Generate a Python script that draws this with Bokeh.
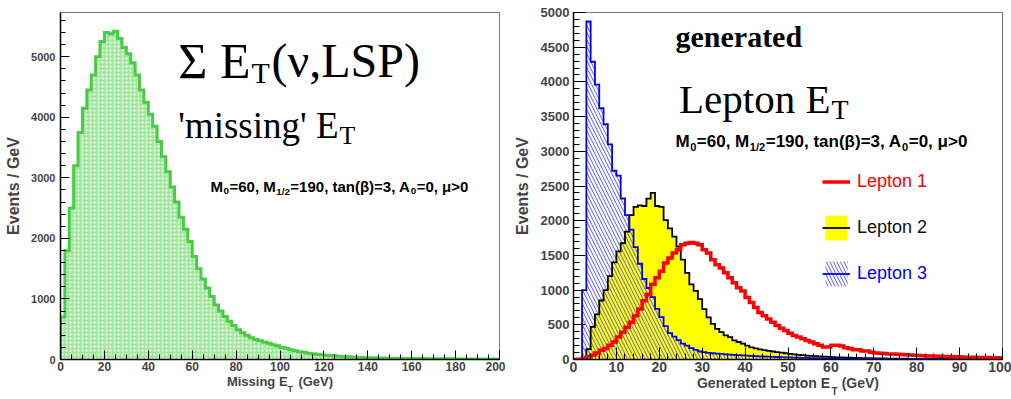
import numpy as np
from bokeh.plotting import figure
from bokeh.layouts import row
from bokeh.models import Label, Legend, LegendItem, Range1d, SingleIntervalTicker, Title
from bokeh.embed import file_html
from bokeh.resources import INLINE

# ---------------- data ----------------
# Left: missing ET, 2 GeV bins from 0 to 200
met_bin_width = 2.0
met_counts = [700, 1800, 2500, 3200, 3750, 4150, 4450, 4700, 5000, 5250,
              5400, 5380, 5420, 5300, 5150, 5050, 4900, 4700, 4450, 4250,
              4050, 3850, 3600, 3350, 3100, 2850, 2600, 2350, 2150, 1950,
              1700, 1500, 1330, 1180, 1040, 900, 800, 710, 630, 560,
              490, 440, 400, 360, 330, 310, 290, 270, 245, 225,
              200, 180, 160, 145, 130, 120, 105, 95, 88, 80,
              72, 66, 60, 55, 50, 46, 42, 38, 35, 32,
              30, 28, 26, 24, 22, 21, 20, 19, 18, 17,
              16, 15, 15, 14, 13, 13, 12, 12, 11, 11,
              10, 10, 9, 9, 8, 8, 8, 7, 7, 6]

# Right: generated lepton ET, 1 GeV bins from 0 to 100
lep_bin_width = 1.0
lepton1 = [0, 5, 15, 38, 62, 95, 133, 157, 204, 252,
           323, 394, 465, 537, 631, 726, 845, 940, 1083, 1178,
           1272, 1391, 1462, 1534, 1581, 1652, 1676, 1686, 1676, 1652,
           1581, 1534, 1439, 1367, 1320, 1249, 1178, 1106, 1035, 988,
           893, 821, 750, 679, 631, 584, 537, 489, 451, 418,
           380, 347, 323, 299, 275, 252, 228, 204, 180, 180,
           204, 204, 195, 171, 157, 142, 142, 123, 123, 105,
           95, 90, 85, 80, 78, 75, 72, 68, 64, 60,
           57, 54, 52, 50, 48, 46, 44, 42, 40, 38,
           36, 34, 33, 31, 30, 29, 28, 27, 26, 25]
lepton2 = [0, 0, 0, 150, 470, 650, 850, 1000, 1200, 1400,
           1557, 1676, 1842, 2080, 2198, 2222, 2212, 2317, 2400, 2212,
           2198, 2008, 1890, 1771, 1628, 1439, 1249, 1083, 988, 869,
           726, 608, 513, 442, 394, 347, 323, 275, 252, 228,
           200, 175, 160, 145, 135, 125, 115, 105, 98, 90,
           82, 75, 68, 62, 57, 52, 48, 44, 40, 37,
           34, 32, 30, 28, 26, 24, 22, 21, 20, 18,
           17, 16, 15, 14, 13, 12, 12, 11, 10, 10,
           9, 9, 8, 8, 7, 7, 6, 6, 6, 5,
           5, 5, 4, 4, 4, 3, 3, 3, 3, 2]
lepton3 = [0, 0, 1000, 4870, 4290, 3960, 3620, 3390, 3100, 2720,
           2650, 2320, 2080, 1870, 1620, 1380, 1160, 1030, 900, 730,
           610, 480, 380, 330, 280, 230, 200, 165, 140, 115,
           105, 95, 90, 85, 80, 75, 70, 66, 62, 58,
           55, 52, 49, 46, 43, 40, 38, 36, 34, 32,
           30, 28, 26, 24, 22, 20, 19, 18, 17, 16,
           15, 14, 13, 12, 11, 10, 10, 9, 9, 8,
           8, 7, 7, 7, 6, 6, 6, 5, 5, 5,
           5, 4, 4, 4, 4, 3, 3, 3, 3, 3,
           3, 2, 2, 2, 2, 2, 2, 1, 1, 1]

legend_labels = ["Lepton 1", "Lepton 2", "Lepton 3"]
# parameter line: (text, is_subscript)
param_pieces = [("M", False), ("0", True), ("=60, M", False), ("1/2", True),
                ("=190, tan(\u03b2)=3, A", False), ("0", True), ("=0, \u03bc>0", False)]
y_label = "Events / GeV"
NB = "\u00a0\u00a0\u00a0"
left_x_label = "Missing E" + NB + "(GeV)"
right_x_label = "Generated Lepton E" + NB + "(GeV)"

# Arial/Liberation Sans Bold advance widths (em)
BOLD_W = {" ": .278, "(": .333, ")": .333, ",": .278, "/": .278, "=": .584, ">": .584,
          "A": .722, "M": .833, "a": .556, "n": .611, "t": .333, "\u03b2": .60, "\u03bc": .611}

def text_w(s, size):
    return sum(BOLD_W.get(c, .556) for c in s) * size

# ---------------- helpers ----------------
def edges_of(counts, width):
    return np.arange(len(counts) + 1) * width

def step_outline(p, counts, width, **kw):
    e = edges_of(counts, width)
    xs = np.concatenate([[e[0]], e])
    ys = np.concatenate([[0], counts, [0]])
    return p.step(xs, ys, mode="after", line_join="miter", **kw)

def step_fill(p, counts, width, **kw):
    e = edges_of(counts, width)
    ys = np.concatenate([counts, [counts[-1]]])
    return p.varea_step(x=e, y1=np.zeros(len(e)), y2=ys, step_mode="after", **kw)

def put(p, frame, text, ax, ay, size, font="Liberation Sans", style="normal",
        align="left", color="black"):
    fl, fb = frame
    p.add_layout(Label(x=ax - fl, y=fb - ay, x_units="screen", y_units="screen",
                       text=text, text_font=font, text_font_size=f"{size}px",
                       text_font_style=style, text_align=align,
                       text_baseline="alphabetic", text_color=color))

def put_params(p, frame, ax, ay, size):
    sub = round(size * 0.65, 1)
    x = ax
    for txt, is_sub in param_pieces:
        if is_sub:
            put(p, frame, txt, x + 0.5, ay + size * 0.33, sub, style="bold")
            x += text_w(txt, sub) + 1
        else:
            put(p, frame, txt, x, ay, size, style="bold")
            x += text_w(txt, size)

def sub_below(p, text, offset, size):
    p.add_layout(Title(text=text, align="left", offset=offset, vertical_align="top",
                       standoff=-15, text_font="Liberation Sans",
                       text_font_style="bold", text_font_size=f"{size}px"), "below")

def style_axes(p, ytick_size, xtick_size, major_in, minor_in, xlab_size):
    for ax in (p.xaxis[0], p.yaxis[0]):
        ax.axis_line_color = "black"
        ax.axis_line_width = 1.5
        ax.major_tick_line_color = "black"
        ax.minor_tick_line_color = "black"
        ax.major_tick_out = 0
        ax.major_tick_in = major_in
        ax.minor_tick_out = 0
        ax.minor_tick_in = minor_in
        ax.major_label_text_font = "Liberation Sans"
        ax.major_label_text_font_style = "bold"
        ax.axis_label_text_font = "Liberation Sans"
        ax.axis_label_text_font_style = "bold"
        ax.axis_label_text_font_size = "16px"
    p.yaxis[0].major_label_text_font_size = f"{ytick_size}px"
    p.xaxis[0].major_label_text_font_size = f"{xtick_size}px"
    p.xaxis[0].axis_label_text_font_size = f"{xlab_size}px"
    p.xaxis[0].major_label_standoff = 2
    p.xaxis[0].axis_label_standoff = 0
    p.grid.visible = False
    p.outline_line_color = "#777777"
    p.outline_line_width = 1

# ---------------- left panel ----------------
p1 = figure(width=505, height=399, output_backend="svg", toolbar_location=None,
            x_range=Range1d(0, 200), y_range=Range1d(0, 5730),
            min_border_left=60, min_border_right=6, min_border_top=7, min_border_bottom=40)
p1.xaxis.ticker = SingleIntervalTicker(interval=20, num_minor_ticks=4)
p1.yaxis.ticker = SingleIntervalTicker(interval=1000, num_minor_ticks=5)
style_axes(p1, 11, 12, 9, 5, 13)
p1.yaxis.axis_label = y_label
p1.yaxis.axis_label_standoff = 6
p1.yaxis.major_label_standoff = 5
p1.xaxis.axis_label = left_x_label
sub_below(p1, "T", 227, 9)

step_fill(p1, met_counts, met_bin_width, fill_color="#a2e89c",
          hatch_pattern="dot", hatch_color="white", hatch_scale=4, hatch_weight=1.3)
step_outline(p1, met_counts, met_bin_width, line_color="#48cc44", line_width=3)

F1 = (60, 359)
put(p1, F1, "\u03a3 E", 250, 60, 50, font="Liberation Serif", align="right")
put(p1, F1, "T", 251, 72, 30, font="Liberation Serif")
put(p1, F1, "(\u03bd,LSP)", 271, 60, 48, font="Liberation Serif")
put(p1, F1, "'missing' E", 338, 125, 37, font="Liberation Serif", align="right")
put(p1, F1, "T", 339, 135, 26, font="Liberation Serif")
put_params(p1, F1, 210, 186, 15)

# ---------------- right panel ----------------
p2 = figure(width=506, height=399, output_backend="svg", toolbar_location=None,
            x_range=Range1d(0, 100), y_range=Range1d(0, 5000),
            min_border_left=68, min_border_right=9, min_border_top=12, min_border_bottom=36)
p2.xaxis.ticker = SingleIntervalTicker(interval=10, num_minor_ticks=5)
p2.yaxis.ticker = SingleIntervalTicker(interval=500, num_minor_ticks=5)
style_axes(p2, 13, 14, 12, 6, 14)
p2.yaxis.axis_label = y_label
p2.yaxis.axis_label_standoff = 7
p2.yaxis.major_label_standoff = 4
p2.xaxis.axis_label = right_x_label
sub_below(p2, "T", 258, 10)

r2f = step_fill(p2, lepton2, lep_bin_width, fill_color="#ffff00")
r3f = step_fill(p2, lepton3, lep_bin_width, fill_alpha=0,
                hatch_pattern="left_diagonal_line", hatch_color="#3c3cff",
                hatch_alpha=0.85, hatch_scale=7, hatch_weight=1)
r2l = step_outline(p2, lepton2, lep_bin_width, line_color="black", line_width=1.8)
r3l = step_outline(p2, lepton3, lep_bin_width, line_color="#0000ff", line_width=1.8)
r1 = step_outline(p2, lepton1, lep_bin_width, line_color="#ff0000", line_width=3.5)

leg_specs = [([r1], "#ff0000", 162), ([r2f, r2l], "#111111", 116), ([r3f, r3l], "#0000ff", 70)]
for (rends, col, ly), lab in zip(leg_specs, legend_labels):
    lg = Legend(items=[LegendItem(label=lab, renderers=rends)], location=(249, ly),
                glyph_width=28, glyph_height=31, label_height=31, label_standoff=7,
                padding=0, margin=0, spacing=0, border_line_alpha=0,
                background_fill_alpha=0, label_text_font="Liberation Sans",
                label_text_font_size="18px", label_text_color=col)
    p2.add_layout(lg)

F2 = (573, 363)
put(p2, F2, "generated", 675, 40, 30, font="Liberation Serif", style="bold")
put(p2, F2, "Lepton E", 830, 102, 41, font="Liberation Serif", align="right")
put(p2, F2, "T", 831, 113, 28, font="Liberation Serif")
put_params(p2, F2, 675, 145, 17)

layout = row(p1, p2)
open("out.html", "w").write(file_html(layout, INLINE))
